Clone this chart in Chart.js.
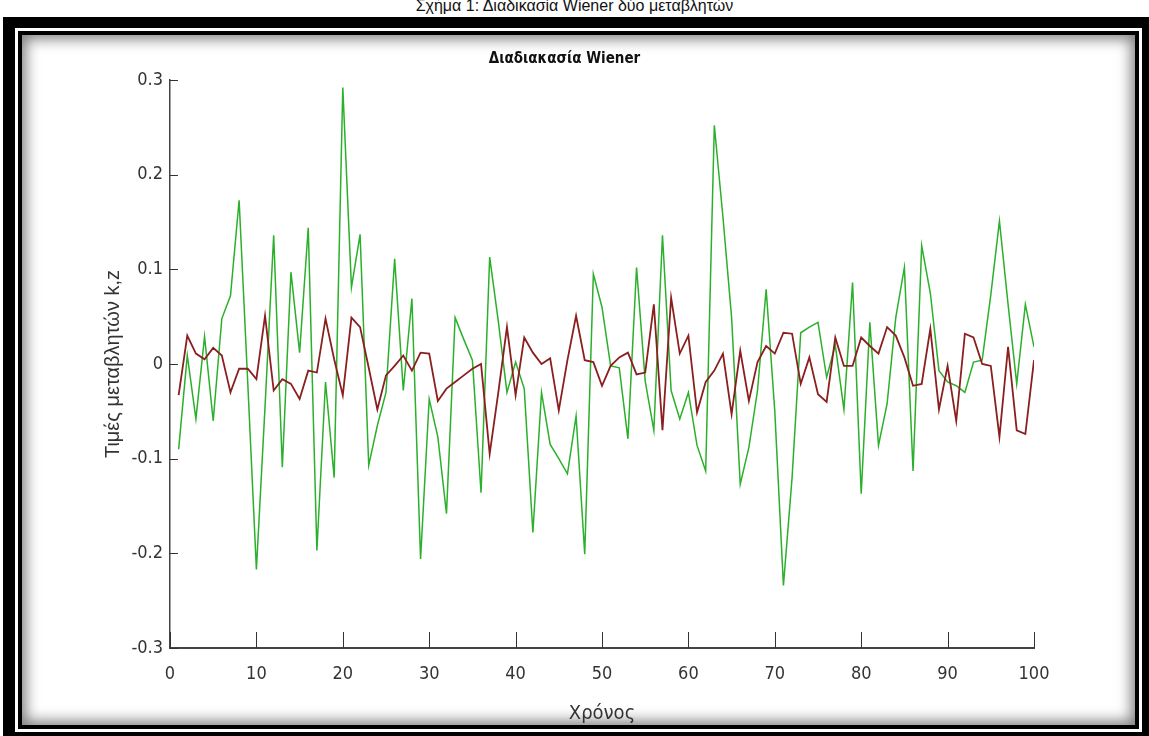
<!DOCTYPE html>
<html>
<head>
<meta charset="utf-8">
<title>Διαδιακασία Wiener</title>
<script src="https://cdn.jsdelivr.net/npm/chart.js@4/dist/chart.umd.min.js"></script>
<style>
  html, body { margin: 0; padding: 0; background: #fff; }
  #page { position: relative; width: 1149px; height: 736px; overflow: hidden; }
  #caption {
    position: absolute; left: 0; width: 1149px; top: -3px;
    text-align: center; font: 16px "Liberation Sans", Arial, sans-serif; color: #111;
  }
  .frame-outer { position: absolute; left: 3px; top: 17px; width: 1146px; height: 719px; background: #000; }
  .frame-gap { position: absolute; left: 12px; top: 11px; right: 7px; bottom: 4px; background: #fff; }
  .frame-inner { position: absolute; left: 3px; top: 3px; right: 3px; bottom: 3px; background: #000; }
  .frame-content {
    position: absolute; left: 4px; top: 4px; right: 4px; bottom: 4px; background: #fff;
    box-shadow: inset 0 0 14px 4px rgba(0,0,0,0.5);
  }
  #chart { position: absolute; left: 0; top: 0; }
</style>
</head>
<body>
<div id="page">
  <div id="caption">Σχήμα 1: Διαδικασία Wiener δύο μεταβλητών</div>
  <div class="frame-outer">
    <div class="frame-gap">
      <div class="frame-inner"><div class="frame-content"></div></div>
    </div>
  </div>
  <canvas id="chart" width="1149" height="736"></canvas>
</div>
<script>
// time steps 1..100
const times = Array.from({ length: 100 }, (_, i) => i + 1);

// green series (k)
const kValues = [
  -0.090, 0.009, -0.058, 0.029, -0.060, 0.048, 0.072, 0.173, -0.020, -0.217,
  -0.045, 0.136, -0.109, 0.097, 0.012, 0.144, -0.197, -0.019, -0.120, 0.292,
  0.081, 0.137, -0.107, -0.065, -0.030, 0.111, -0.028, 0.069, -0.206, -0.037,
  -0.077, -0.158, 0.049, 0.026, 0.004, -0.136, 0.113, 0.045, -0.030, 0.002,
  -0.026, -0.178, -0.030, -0.085, -0.100, -0.116, -0.055, -0.201, 0.095, 0.060,
  -0.002, -0.004, -0.079, 0.102, -0.018, -0.070, 0.136, -0.028, -0.058, -0.030,
  -0.086, -0.113, 0.252, 0.155, 0.049, -0.127, -0.088, -0.028, 0.079, -0.050,
  -0.234, -0.120, 0.033, 0.039, 0.044, -0.014, 0.020, -0.048, 0.086, -0.137,
  0.044, -0.086, -0.042, 0.049, 0.102, -0.113, 0.125, 0.075, -0.007, -0.019,
  -0.023, -0.030, 0.002, 0.004, 0.073, 0.151, 0.063, -0.021, 0.063, 0.018,
];

// dark red series (z)
const zValues = [
  -0.033, 0.030, 0.011, 0.005, 0.017, 0.009, -0.030, -0.005, -0.005, -0.016,
  0.051, -0.028, -0.016, -0.021, -0.037, -0.007, -0.009, 0.048, 0.005, -0.033,
  0.049, 0.039, -0.004, -0.048, -0.012, -0.002, 0.009, -0.007, 0.012, 0.011,
  -0.039, -0.026, -0.019, -0.012, -0.005, 0.000, -0.095, -0.030, 0.039, -0.033,
  0.028, 0.012, 0.000, 0.006, -0.049, 0.004, 0.051, 0.004, 0.002, -0.023,
  -0.002, 0.007, 0.012, -0.011, -0.009, 0.063, -0.070, 0.070, 0.011, 0.030,
  -0.051, -0.019, -0.007, 0.011, -0.053, 0.014, -0.039, 0.002, 0.019, 0.011,
  0.033, 0.032, -0.021, 0.007, -0.032, -0.040, 0.028, -0.002, -0.002, 0.028,
  0.019, 0.011, 0.039, 0.030, 0.007, -0.023, -0.021, 0.037, -0.048, -0.002,
  -0.060, 0.032, 0.028, 0.000, -0.002, -0.077, 0.018, -0.070, -0.074, 0.004,
];

const xTickStep = 10;
const yTickStep = 0.1;

const NARROW = "'Liberation Sans Narrow', 'DejaVu Sans Condensed', 'Arial Narrow', sans-serif";

// matlab style ticks pointing into the plot
const innerTicks = {
  id: "innerTicks",
  afterDraw(chart) {
    const { ctx, chartArea, scales } = chart;
    ctx.save();
    ctx.strokeStyle = "#333";
    ctx.lineWidth = 1;
    scales.x.ticks.forEach((t) => {
      const px = Math.round(scales.x.getPixelForValue(t.value)) + 0.5;
      ctx.beginPath();
      ctx.moveTo(px, chartArea.bottom);
      ctx.lineTo(px, chartArea.bottom - 16);
      ctx.stroke();
    });
    scales.y.ticks.forEach((t) => {
      const py = Math.round(scales.y.getPixelForValue(t.value)) + 0.5;
      ctx.beginPath();
      ctx.moveTo(chartArea.left, py);
      ctx.lineTo(chartArea.left + 8, py);
      ctx.stroke();
    });
    ctx.restore();
  },
};

new Chart(document.getElementById("chart"), {
  type: "line",
  data: {
    datasets: [
      {
        label: "z",
        data: times.map((t, i) => ({ x: t, y: zValues[i] })),
        borderColor: "#8a1f1f",
        borderWidth: 1.8,
        pointRadius: 0,
        tension: 0,
        fill: false,
      },
      {
        label: "k",
        data: times.map((t, i) => ({ x: t, y: kValues[i] })),
        borderColor: "#2bb02b",
        borderWidth: 1.5,
        pointRadius: 0,
        tension: 0,
        fill: false,
      },
    ],
  },
  options: {
    responsive: false,
    animation: false,
    devicePixelRatio: 1,
    layout: { padding: { left: 95, right: 115, top: 50, bottom: 0 } },
    plugins: {
      legend: { display: false },
      tooltip: { enabled: false },
      title: {
        display: true,
        text: "Διαδιακασία Wiener",
        color: "#111",
        font: { family: NARROW, size: 15, weight: "bold" },
        padding: { top: 0, bottom: 12 },
      },
    },
    scales: {
      x: {
        type: "linear",
        min: 0,
        max: 100,
        grid: { display: false, drawTicks: false },
        border: { display: true, color: "#444", width: 2 },
        ticks: {
          stepSize: xTickStep,
          padding: 16,
          color: "#333",
          font: { family: NARROW, size: 18 },
        },
        title: {
          display: true,
          text: "Χρόνος",
          color: "#333",
          font: { family: NARROW, size: 20 },
          padding: { top: 0, bottom: 10 },
        },
        afterFit: (scale) => { scale.height = 88; },
      },
      y: {
        min: -0.3,
        max: 0.3,
        grid: { display: false, drawTicks: false },
        border: { display: true, color: "#444", width: 1.5 },
        ticks: {
          stepSize: yTickStep,
          padding: 7,
          color: "#333",
          font: { family: NARROW, size: 18 },
          callback: (v) => (Math.abs(v) < 1e-9 ? "0" : Number(v).toFixed(1)),
        },
        title: {
          display: true,
          text: "Τιμές μεταβλητών k,z",
          color: "#333",
          font: { family: "'Liberation Sans', Arial, sans-serif", size: 20 },
          padding: { top: 6, bottom: 0 },
        },
        afterFit: (scale) => { scale.width = 75; },
      },
    },
  },
  plugins: [innerTicks],
});
</script>
</body>
</html>
